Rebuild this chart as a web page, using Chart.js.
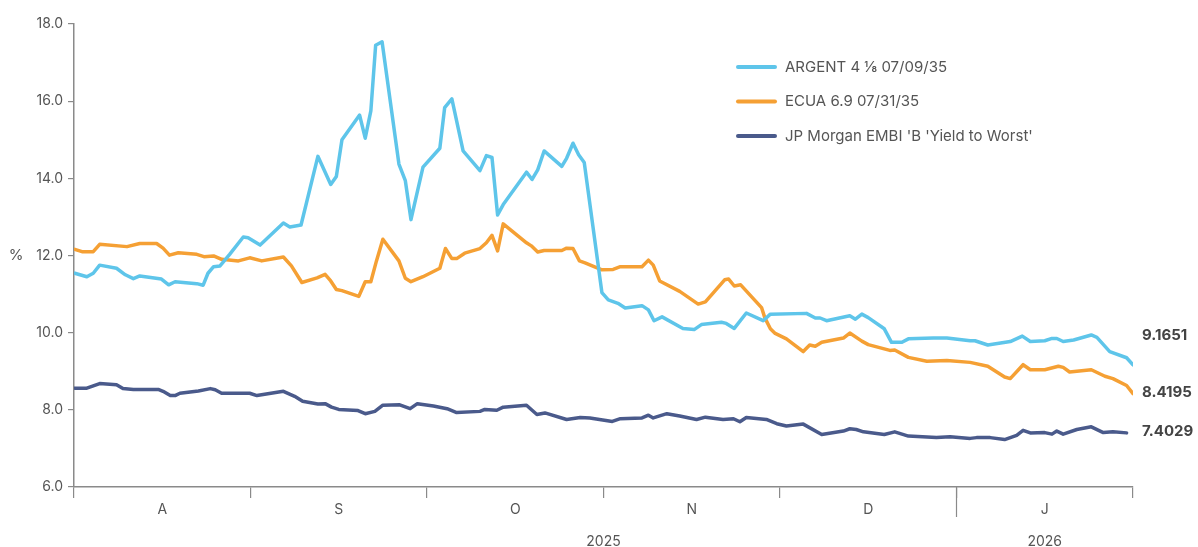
<!DOCTYPE html>
<html>
<head>
<meta charset="utf-8">
<script src="https://cdn.jsdelivr.net/npm/chart.js@4.4.1/dist/chart.umd.min.js"></script>
<style>
  html, body { margin: 0; padding: 0; background: #fff; }
  #wrap { width: 1198px; height: 547px; position: relative; }
</style>
</head>
<body>
<div id="wrap"><canvas id="c"></canvas></div>
<script>
// x values are trading-day positions, 22 per month starting 1 Aug 2025
const monthLabels = ['A', 'S', 'O', 'N', 'D', 'J'];
const yearLabels = ['2025', '2026'];
const yearDay = [66, 121];
const yTicks = [6, 8, 10, 12, 14, 16, 18];
const seriesNames = ['ARGENT 4 \u215B 07/09/35', 'ECUA 6.9 07/31/35', "JP Morgan EMBI 'B 'Yield to Worst'"];
const lastValues = ['9.1651', '8.4195', '7.4029'];

const argentDay = [0.1,1.6,2.4,3.2,5.3,6.4,7.4,8.2,10.9,11.8,12.6,15.3,16.1,16.7,17.4,18.2,19.4,21.1,21.7,23.2,26.1,26.9,28.3,30.4,32.0,32.7,33.4,35.6,36.3,37.0,37.6,38.4,40.5,41.3,42.0,43.5,45.6,46.2,47.1,48.5,50.6,51.4,52.1,52.8,53.5,56.4,57.1,57.8,58.6,60.8,61.4,62.2,62.9,63.6,65.8,66.6,67.8,68.7,70.8,71.6,72.3,73.3,75.9,77.3,78.2,80.7,81.3,82.3,83.8,85.9,86.8,91.3,92.4,93.0,93.8,96.7,97.4,98.2,99.0,101.0,101.9,103.2,104.0,107.1,108.8,111.7,112.3,113.9,116.7,118.2,119.2,121.0,121.9,122.5,123.3,124.6,126.8,127.5,129.1,131.2,132.0];
const argentYld = [11.54,11.45,11.54,11.75,11.67,11.50,11.40,11.47,11.39,11.24,11.32,11.27,11.23,11.54,11.71,11.73,12.03,12.48,12.46,12.27,12.84,12.74,12.79,14.57,13.84,14.05,15.00,15.64,15.04,15.75,17.45,17.54,14.37,13.94,12.93,14.29,14.78,15.83,16.06,14.71,14.20,14.59,14.54,13.05,13.32,14.16,13.97,14.22,14.71,14.31,14.52,14.91,14.61,14.41,11.04,10.85,10.76,10.64,10.70,10.59,10.31,10.41,10.11,10.08,10.21,10.27,10.24,10.11,10.51,10.31,10.48,10.50,10.38,10.38,10.31,10.44,10.35,10.48,10.39,10.10,9.75,9.75,9.84,9.86,9.86,9.79,9.79,9.68,9.77,9.91,9.77,9.79,9.85,9.85,9.77,9.81,9.94,9.88,9.51,9.35,9.1651];

const ecuaDay = [0.1,1.0,2.4,3.2,6.6,8.2,10.3,11.1,11.9,13.0,15.3,16.2,17.4,18.4,20.5,21.9,23.4,26.1,27.1,28.4,30.3,31.3,32.0,32.7,33.4,35.5,36.3,37.0,37.7,38.5,40.5,41.3,42.0,43.5,45.6,46.3,47.1,47.7,48.7,50.6,51.4,52.1,52.8,53.5,56.4,57.0,57.8,58.6,60.8,61.4,62.2,63.0,63.7,65.8,67.2,68.1,70.8,71.6,72.2,73.0,75.5,77.8,78.7,81.1,81.6,82.3,83.1,85.7,86.1,86.8,87.4,88.8,90.9,91.7,92.4,93.2,95.9,96.7,98.2,99.0,101.7,102.3,104.0,106.3,108.8,111.7,113.9,116.0,116.7,118.3,119.2,121.0,122.7,123.3,124.1,126.8,128.5,129.5,131.2,132.0];
const ecuaYld = [12.16,12.10,12.10,12.29,12.23,12.31,12.31,12.19,12.01,12.07,12.03,11.97,11.99,11.90,11.86,11.94,11.86,11.96,11.73,11.30,11.42,11.51,11.34,11.12,11.09,10.94,11.32,11.32,11.86,12.42,11.86,11.41,11.32,11.45,11.67,12.18,11.92,11.92,12.06,12.18,12.33,12.52,12.12,12.82,12.33,12.25,12.09,12.13,12.13,12.19,12.18,11.86,11.81,11.63,11.64,11.71,11.71,11.88,11.75,11.34,11.07,10.74,10.80,11.37,11.39,11.21,11.24,10.65,10.39,10.10,9.98,9.84,9.51,9.68,9.65,9.75,9.86,9.99,9.78,9.69,9.54,9.55,9.36,9.26,9.28,9.23,9.13,8.85,8.81,9.17,9.04,9.04,9.13,9.10,8.98,9.04,8.87,8.81,8.63,8.4195];

const embiDay = [0.1,1.6,3.2,5.3,6.1,7.4,10.5,11.1,12.0,12.6,13.2,15.5,17.0,17.6,18.4,21.9,22.8,26.1,27.5,28.5,30.4,31.3,32.1,33.0,35.4,36.3,37.5,38.5,40.6,41.9,42.8,44.8,46.5,47.7,50.6,51.2,52.7,53.5,56.4,57.7,58.7,61.4,63.1,64.3,67.1,68.1,70.8,71.6,72.2,73.9,75.5,77.6,78.7,80.9,82.2,83.0,83.8,86.3,87.6,88.8,90.9,93.2,95.9,96.7,97.5,98.4,101.0,102.3,104.0,107.5,109.2,111.7,112.5,114.2,116.0,117.5,118.3,119.2,121.0,121.9,122.5,123.3,125.0,126.8,128.3,129.5,131.2];
const embiYld = [8.56,8.56,8.68,8.65,8.55,8.53,8.53,8.48,8.37,8.37,8.43,8.49,8.55,8.52,8.43,8.43,8.37,8.48,8.35,8.22,8.15,8.16,8.07,8.01,7.98,7.90,7.96,8.12,8.13,8.03,8.16,8.10,8.03,7.93,7.96,8.01,7.99,8.07,8.12,7.88,7.92,7.75,7.80,7.79,7.70,7.77,7.79,7.86,7.79,7.90,7.84,7.75,7.81,7.75,7.77,7.69,7.80,7.75,7.64,7.58,7.63,7.36,7.45,7.51,7.49,7.43,7.36,7.43,7.32,7.28,7.30,7.26,7.28,7.28,7.23,7.34,7.47,7.40,7.41,7.37,7.45,7.37,7.49,7.56,7.41,7.43,7.4029];

const colors = ['#5EC5EA', '#F5A034', '#4A5A8B'];
const toPts = (xs, ys) => xs.map((x, i) => ({ x: x, y: ys[i] }));

const FONT = 'Inter, "Noto Sans", sans-serif';
const TEXT = '#555555';
const AXIS = '#8a8a8a';
const DAYS_PER_MONTH = 22;

const overlay = {
  id: 'overlay',
  afterDraw(chart) {
    const ctx = chart.ctx;
    const xs = chart.scales.x, ys = chart.scales.y;
    const bottom = chart.chartArea.bottom;
    ctx.save();
    // long tick separating the years
    ctx.strokeStyle = AXIS; ctx.lineWidth = 1.2;
    const xj = xs.getPixelForValue(5 * DAYS_PER_MONTH);
    ctx.beginPath(); ctx.moveTo(xj, bottom); ctx.lineTo(xj, bottom + 30); ctx.stroke();
    // year labels
    ctx.fillStyle = TEXT; ctx.font = '14px ' + FONT;
    ctx.textAlign = 'center'; ctx.textBaseline = 'middle';
    yearLabels.forEach((t, i) => ctx.fillText(t, xs.getPixelForValue(yearDay[i]), bottom + 55));
    // % title
    ctx.font = '15px ' + FONT;
    ctx.fillText('%', 16, (chart.chartArea.top + bottom) / 2);
    // legend
    const lx = 738, ly0 = 67, lgap = 34.5;
    seriesNames.forEach((n, i) => {
      const y = ly0 + i * lgap;
      ctx.strokeStyle = colors[i]; ctx.lineWidth = 4; ctx.lineCap = 'round';
      ctx.beginPath(); ctx.moveTo(lx, y); ctx.lineTo(lx + 37, y); ctx.stroke();
      ctx.fillStyle = TEXT; ctx.font = '15px ' + FONT; ctx.textAlign = 'left';
      ctx.fillText(n, lx + 47, y);
    });
    // end value labels
    const offs = [-29, -1, -1];
    const lastY = [argentYld[argentYld.length - 1], ecuaYld[ecuaYld.length - 1], embiYld[embiYld.length - 1]];
    ctx.font = 'bold 15px ' + FONT; ctx.fillStyle = '#444444'; ctx.textAlign = 'left';
    lastValues.forEach((t, i) => {
      ctx.fillText(t, chart.chartArea.right + 9, ys.getPixelForValue(lastY[i]) + offs[i]);
    });
    ctx.restore();
  }
};

new Chart(document.getElementById('c'), {
  type: 'line',
  data: {
    datasets: [
      { label: seriesNames[0], data: toPts(argentDay, argentYld), borderColor: colors[0] },
      { label: seriesNames[1], data: toPts(ecuaDay, ecuaYld), borderColor: colors[1] },
      { label: seriesNames[2], data: toPts(embiDay, embiYld), borderColor: colors[2] }
    ]
  },
  options: {
    responsive: true,
    maintainAspectRatio: false,
    animation: false,
    layout: { padding: { top: 24, right: 65, left: 0, bottom: 0 } },
    elements: {
      line: { borderWidth: 3.5, tension: 0, borderJoinStyle: 'round', borderCapStyle: 'round', fill: false },
      point: { radius: 0, hoverRadius: 0 }
    },
    plugins: { legend: { display: false }, tooltip: { enabled: false } },
    scales: {
      x: {
        type: 'linear', min: 0, max: 6 * DAYS_PER_MONTH,
        afterBuildTicks(axis) {
          const t = [];
          for (let m = 0; m <= 6; m++) {
            t.push({ value: m * DAYS_PER_MONTH });
            if (m < 6) t.push({ value: m * DAYS_PER_MONTH + DAYS_PER_MONTH / 2 });
          }
          axis.ticks = t;
        },
        afterFit(axis) { axis.height = 60; },
        ticks: {
          autoSkip: false, maxRotation: 0, color: TEXT, padding: 3,
          font: { family: FONT, size: 14 },
          callback(v) {
            const r = v % DAYS_PER_MONTH;
            return r === DAYS_PER_MONTH / 2 ? monthLabels[(v - r) / DAYS_PER_MONTH] : '';
          }
        },
        grid: {
          drawOnChartArea: false, drawTicks: true, tickLength: 11, lineWidth: 1.2,
          color: c => (c.tick && c.tick.value % DAYS_PER_MONTH === 0) ? AXIS : 'rgba(0,0,0,0)'
        },
        border: { display: true, color: AXIS, width: 1.5 }
      },
      y: {
        min: 6, max: 18,
        afterBuildTicks(axis) { axis.ticks = yTicks.map(v => ({ value: v })); },
        afterFit(axis) { axis.width = 74; },
        ticks: { color: TEXT, padding: 5, font: { family: FONT, size: 14 }, callback: v => v.toFixed(1) },
        grid: { drawOnChartArea: false, drawTicks: true, tickLength: 6, color: AXIS, lineWidth: 1.2 },
        border: { display: true, color: AXIS, width: 1.5 }
      }
    }
  },
  plugins: [overlay]
});
</script>
</body>
</html>
